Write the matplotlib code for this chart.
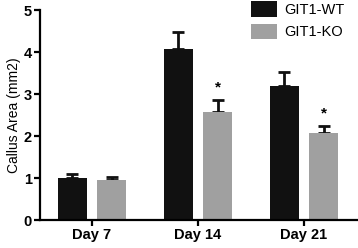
import numpy as np
import matplotlib
matplotlib.use("Agg")
import matplotlib.pyplot as plt

plt.rcParams["font.family"] = ["Liberation Sans", "DejaVu Sans"]

days = ["Day 7", "Day 14", "Day 21"]
wt_mean = [1.0, 4.07, 3.2]
wt_err = [0.1, 0.4, 0.32]
ko_mean = [0.95, 2.58, 2.08]
ko_err = [0.08, 0.28, 0.16]
ko_sig = [False, True, True]

x = np.arange(len(days))
w = 0.27
off = 0.185

fig = plt.figure(figsize=(3.58, 2.48), dpi=100)
ax = fig.add_axes([40 / 358, 28 / 248, 318 / 358, 210 / 248])

err_kw = dict(fmt="none", ecolor="#111111", elinewidth=2.0, capsize=4.5,
              capthick=2.0, zorder=1)
# error bars drawn beneath the bars so only the upper half shows
ax.errorbar(x - off, wt_mean, yerr=[np.zeros(3), wt_err], **err_kw)
ax.errorbar(x + off, ko_mean, yerr=[np.zeros(3), ko_err], **err_kw)
ax.bar(x - off, wt_mean, w, color="#111111", label="GIT1-WT", zorder=2)
ax.bar(x + off, ko_mean, w, color="#a0a0a0", label="GIT1-KO", zorder=2)
for xi, m, e, s in zip(x, ko_mean, ko_err, ko_sig):
    if s:
        ax.text(xi + off, m + e + 0.12, "*", ha="center", va="bottom",
                fontsize=11, fontweight="bold")

ax.set_xlim(-0.49, 2.51)
ax.set_ylim(0, 5)
ax.set_yticks([0, 1, 2, 3, 4, 5])
ax.set_xticks(x)
ax.set_xticklabels(days)
ax.set_ylabel("Callus Area (mm2)", fontsize=10, labelpad=2)
for lab in ax.get_xticklabels() + ax.get_yticklabels():
    lab.set_fontweight("bold")
    lab.set_fontsize(10.5)
for s in ("top", "right"):
    ax.spines[s].set_visible(False)
for s in ("left", "bottom"):
    ax.spines[s].set_linewidth(1.6)
ax.tick_params(width=1.6, length=4, direction="out", pad=2)

ax.legend(loc="upper right", bbox_to_anchor=(1.0, 1.105), frameon=False,
          fontsize=10.5, handlelength=1.8, handleheight=1.3, handletextpad=0.5,
          labelspacing=0.45)

fig.savefig("out.png", dpi=100)
